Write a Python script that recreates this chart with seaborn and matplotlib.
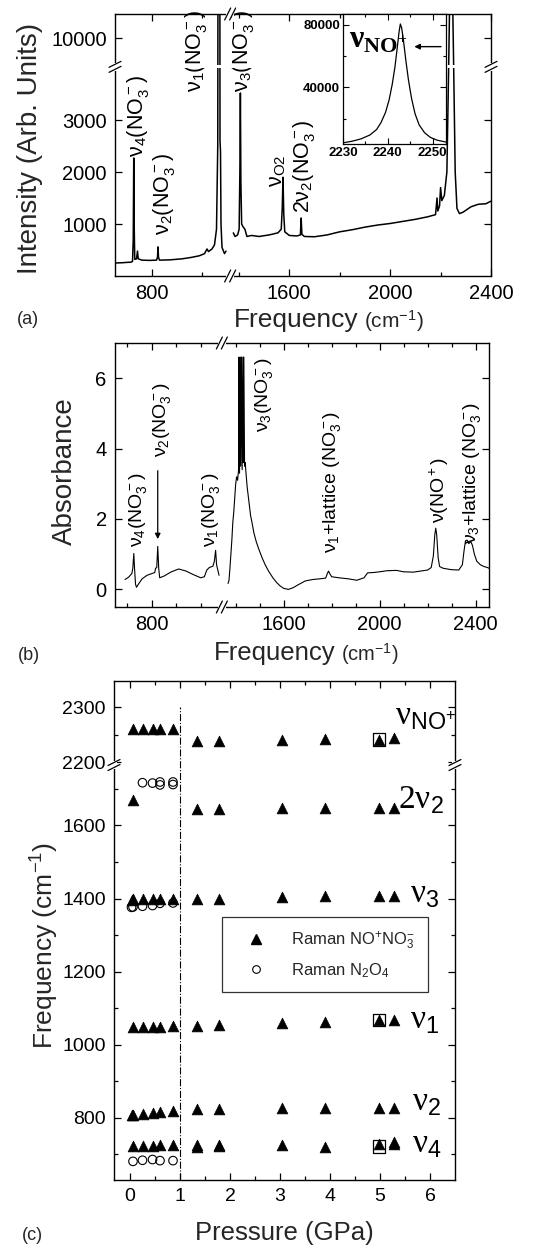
import numpy as np
import pandas as pd
import matplotlib
matplotlib.use("Agg")
import matplotlib.pyplot as plt
import seaborn as sns
from matplotlib.lines import Line2D
from matplotlib.patches import Rectangle

# ------------------------------------------------------------------ data
# (a) Raman spectrum (cm-1, arb. units)
raman_left_x = [652, 680, 700, 715, 722, 725, 727, 729, 731, 738, 742, 745, 760, 790, 818, 822,
                824, 826, 830, 870, 920, 960, 990, 1010, 1020, 1026, 1040, 1050, 1058, 1063, 1066,
                1070, 1072, 1074, 1076, 1080, 1090, 1096]
raman_left_y = [250, 255, 262, 265, 280, 700, 2270, 900, 320, 330, 480, 330, 305, 300, 305, 360,
                560, 360, 305, 310, 330, 360, 390, 430, 520, 470, 520, 600, 900, 2500, 30000,
                30000, 2600, 2400, 1000, 550, 430, 480]
raman_right_x = [1378, 1385, 1395, 1401, 1404, 1406, 1408, 1411, 1416, 1424, 1432, 1450, 1480,
                 1520, 1555, 1568, 1572, 1575, 1578, 1582, 1600, 1630, 1644, 1647, 1650, 1660,
                 1700, 1750, 1800, 1850, 1900, 1950, 2000, 2050, 2100, 2150, 2180, 2186, 2189,
                 2196, 2200, 2205, 2215, 2225, 2232, 2236, 2238, 2246, 2248, 2252, 2258, 2265,
                 2275, 2290, 2320, 2350, 2380, 2400]
raman_right_y = [830, 760, 790, 900, 2000, 3520, 1800, 1000, 950, 900, 760, 780, 760,
                 790, 830, 900, 1300, 1900, 1200, 850, 780, 770, 790, 1115, 800, 760,
                 755, 790, 850, 890, 940, 980, 1010, 1050, 1090, 1140, 1180, 1500, 1250,
                 1350, 1700, 1450, 1550, 2000, 4000, 11500, 40000, 40000, 11500, 4000, 2000, 1300,
                 1200, 1230, 1330, 1380, 1390, 1440]
inset_x = [2230, 2232, 2234, 2236, 2237.5, 2238.5, 2239.5, 2240.3, 2241, 2241.6, 2242.1, 2242.5,
           2242.8, 2243.1, 2243.5, 2244, 2244.6, 2245.3, 2246.1, 2247, 2248.2, 2249.5, 2251, 2253]
inset_y = [4500, 5500, 7000, 9500, 13000, 17500, 24000, 32000, 42000, 53000, 65000, 75000,
           80500, 78000, 70000, 58000, 45000, 33000, 23000, 16000, 11000, 8000, 6200, 5000]

# (b) IR absorbance
ir_left_x = [690, 705, 718, 722, 726, 729, 733, 737, 745, 760, 780, 800, 812, 815, 820, 824, 828,
             832, 850, 880, 910, 940, 970, 1000, 1015, 1025, 1035, 1050, 1056, 1061, 1065, 1075]
ir_left_y = [0.28, 0.35, 0.45, 0.6, 1.02, 0.6, 0.15, 0.06, 0.15, 0.3, 0.4, 0.45, 0.48, 0.6, 0.62,
             1.22, 0.6, 0.33, 0.38, 0.5, 0.58, 0.52, 0.42, 0.33, 0.36, 0.55, 0.62, 0.66, 0.8, 1.11,
             0.7, 0.4]
ir_right_x = [1368, 1372, 1376, 1380, 1384, 1388, 1392, 1396, 1400, 1404, 1408, 1412, 1414, 1416,
              1419, 1421, 1424, 1427, 1430, 1432, 1434, 1437, 1440, 1443, 1448,
              1455, 1462, 1468, 1476, 1486, 1496, 1510, 1523, 1537, 1555, 1570, 1585, 1600, 1620,
              1640, 1660, 1690, 1720, 1750, 1775, 1782, 1787, 1792, 1800, 1830, 1870, 1905, 1935,
              1950, 1975, 2000, 2030, 2070, 2100, 2140, 2170, 2200, 2215, 2224, 2230, 2234, 2238,
              2244, 2250, 2265, 2300, 2330, 2345, 2352, 2358, 2365, 2372, 2380, 2387, 2395, 2405,
              2420, 2435, 2450, 2456]
ir_right_y = [0.17, 0.25, 0.6, 1.0, 1.4, 1.9, 2.2, 2.6, 3.0, 3.2, 3.1, 3.4, 6.6, 3.3,
              6.6, 3.5, 6.6, 3.4, 6.6, 3.6, 6.6, 3.5, 3.6, 3.3, 2.9,
              2.5, 2.1, 1.9, 1.6, 1.35, 1.15, 0.9, 0.7, 0.52, 0.33, 0.2, 0.1, 0.03, 0.0,
              0.05, 0.13, 0.24, 0.28, 0.3, 0.32, 0.45, 0.52, 0.45, 0.36, 0.33, 0.3, 0.26, 0.33,
              0.47, 0.48, 0.5, 0.53, 0.54, 0.5, 0.49, 0.52, 0.55, 0.62, 0.95, 1.55, 1.74, 1.55,
              0.9, 0.65, 0.6, 0.56, 0.55, 0.7, 1.1, 1.38, 1.4, 1.3, 1.36, 1.25, 1.0, 0.8,
              0.7, 0.65, 0.62, 0.6]

# (c) Raman frequencies vs pressure
p_main = [0.06, 0.25, 0.45, 0.60, 0.86, 1.34, 1.77, 3.03, 3.90, 4.98, 5.28]
nu_no_tri = [2260, 2260, 2260, 2260, 2261, 2239, 2239, 2241, 2242, 2241, 2244]
nu1_tri = [1048, 1048, 1049, 1049, 1050, 1050, 1053, 1059, 1063, 1068, 1069]
p_nu3 = [0.03, 0.06, 0.25, 0.45, 0.60, 0.86, 1.34, 1.77, 3.03, 3.90, 4.98, 5.28]
nu3_tri = [1397, 1398, 1398, 1398, 1399, 1399, 1399, 1400, 1403, 1406, 1407, 1407]
nu2_tri = [808, 809, 810, 813, 816, 818, 823, 824, 826, 826, 826, 826]
p_2nu2 = [0.06, 1.34, 1.77, 3.03, 3.90, 4.98, 5.28]
two_nu2_tri = [1670, 1644, 1644, 1647, 1648, 1648, 1648]
p_nu4 = [0.06, 0.25, 0.45, 0.60, 0.86, 1.34, 1.34, 1.77, 1.77, 3.03, 3.90, 4.98, 5.28, 5.28]
nu4_tri = [723, 723, 724, 725, 725, 726, 721, 727, 722, 726, 721, 728, 733, 729]
p_circ_2nu2 = [0.25, 0.45, 0.60, 0.60, 0.86, 0.86]
two_nu2_circ = [1717, 1716, 1719, 1711, 1719, 1712]
p_circ_nu3 = [0.03, 0.06, 0.25, 0.45, 0.60, 0.86]
nu3_circ = [1376, 1377, 1379, 1381, 1387, 1388]
p_circ_nu4 = [0.06, 0.25, 0.45, 0.60, 0.86]
nu4_circ = [681, 684, 686, 683, 683]
p_square = [4.98, 4.98, 4.98]
square_f = [2241, 1068, 722]

# ------------------------------------------------------------------ style
sns.set_theme(style="ticks")
plt.rcParams["font.family"] = ["Liberation Sans", "DejaVu Sans"]
plt.rcParams["mathtext.fontset"] = "custom"
plt.rcParams["mathtext.rm"] = "Liberation Sans"
plt.rcParams["mathtext.it"] = "Liberation Sans:italic"
plt.rcParams["mathtext.bf"] = "Liberation Serif:bold"
plt.rcParams["mathtext.sf"] = "Liberation Sans"
plt.rcParams["mathtext.default"] = "rm"
plt.rcParams["axes.linewidth"] = 1.0

W, H = 537, 1247
fig = plt.figure(figsize=(W / 100, H / 100), dpi=100)
fig.patch.set_facecolor("white")


def rect(l, t, r, b):
    return [l / W, 1 - b / H, (r - l) / W, (b - t) / H]


def piecewise(src, dst):
    src = np.asarray(src, float)
    dst = np.asarray(dst, float)

    def f(v, a, b):
        v = np.asarray(v, float)
        out = np.interp(v, a, b)
        s0 = (b[1] - b[0]) / (a[1] - a[0])
        s1 = (b[-1] - b[-2]) / (a[-1] - a[-2])
        out = np.where(v < a[0], b[0] + (v - a[0]) * s0, out)
        out = np.where(v > a[-1], b[-1] + (v - a[-1]) * s1, out)
        return out

    return (lambda v: f(v, src, dst)), (lambda v: f(v, dst, src))


def frac(fwd, lo, hi, v):
    return float((fwd(v) - fwd(lo)) / (fwd(hi) - fwd(lo)))


def axpx(ax):
    pos = ax.get_position()
    return pos.width * W, pos.height * H


def xbreak(ax, f):
    wpx, hpx = axpx(ax)
    for yb in (0, 1):
        ax.add_patch(Rectangle((f - 4 / wpx, yb - 3 / hpx), 8 / wpx, 6 / hpx,
                               transform=ax.transAxes, facecolor="white",
                               edgecolor="none", clip_on=False, zorder=5))
        for off in (-2.5, 2.5):
            ax.plot([f + (off - 3) / wpx, f + (off + 3) / wpx],
                    [yb - 6 / hpx, yb + 6 / hpx], transform=ax.transAxes,
                    color="black", lw=0.9, clip_on=False, zorder=6)


def ybreak(ax, f, band=False):
    wpx, hpx = axpx(ax)
    if band:
        ax.add_patch(Rectangle((0, f - 1.5 / hpx), 1, 3 / hpx, transform=ax.transAxes,
                               facecolor="white", edgecolor="none", zorder=4))
    for xb in (0, 1):
        ax.add_patch(Rectangle((xb - 3 / wpx, f - 4 / hpx), 6 / wpx, 8 / hpx,
                               transform=ax.transAxes, facecolor="white",
                               edgecolor="none", clip_on=False, zorder=5))
        for off in (-2.5, 2.5):
            ax.plot([xb - 6 / wpx, xb + 6 / wpx],
                    [f + (off - 3) / hpx, f + (off + 3) / hpx], transform=ax.transAxes,
                    color="black", lw=0.9, clip_on=False, zorder=6)


def style_ticks(ax, size=14):
    ax.tick_params(which="both", direction="in", top=True, right=True,
                   labelsize=size, width=0.9, color="black", labelcolor="black")
    ax.tick_params(which="major", length=5, pad=6)
    ax.tick_params(which="minor", length=3)
    for s in ax.spines.values():
        s.set_color("black")
        s.set_linewidth(1.0)


# ------------------------------------------------------------------ (a)
axA = fig.add_axes(rect(115, 14, 491, 276))
ax_src = [652, 1112, 1366, 2400]
afx, aix = piecewise(ax_src, [0, 115, 115.3, 376])
ay_src = [0, 4020, 8800, 11005]
afy, aiy = piecewise(ay_src, [0, 209, 209.3, 262])
axA.set_xscale("function", functions=(afx, aix))
axA.set_yscale("function", functions=(afy, aiy))
sns.lineplot(x=raman_left_x, y=raman_left_y, ax=axA, color="black", lw=1.1,
             estimator=None, sort=False)
sns.lineplot(x=raman_right_x, y=raman_right_y, ax=axA, color="black", lw=1.1,
             estimator=None, sort=False)
axA.set_xlim(ax_src[0], ax_src[-1])
axA.set_ylim(ay_src[0], ay_src[-1])
axA.set_xticks([800, 1600, 2000, 2400], ["800", "1600", "2000", "2400"])
axA.set_xticks([1000, 1400, 1800, 2200], minor=True)
axA.set_yticks([1000, 2000, 3000, 10000], ["1000", "2000", "3000", "10000"])
axA.set_yticks([], minor=True)
axA.set_xlabel("")
axA.set_ylabel("")
style_ticks(axA, 14.5)
xbreak(axA, frac(afx, ax_src[0], ax_src[-1], 1239))
ybreak(axA, frac(afy, ay_src[0], ay_src[-1], 6400), band=True)

labA = dict(rotation=90, ha="center", va="bottom", fontsize=15.5, color="black")
axA.text(744, 2290, "ν$_4$(NO$_3^-$)", **labA)
axA.text(848, 790, "ν$_2$(NO$_3^-$)", **labA)
axA.text(976, 3540, "ν$_1$(NO$_3^-$)", **labA)
axA.text(1417, 3540, "ν$_3$(NO$_3^-$)", **labA)
axA.text(1552, 1710, "ν$_{O2}$", **labA)
axA.text(1660, 1210, "2ν$_2$(NO$_3^-$)", **labA)

# inset
axI = fig.add_axes(rect(343, 14, 446, 144))
axI.set_facecolor("white")
sns.lineplot(x=inset_x, y=inset_y, ax=axI, color="black", lw=0.9, estimator=None, sort=False)
axI.set_xlim(2230, 2253)
axI.set_ylim(3750, 86875)
axI.set_xticks([2230, 2240, 2250], ["2230", "2240", "2250"])
axI.set_xticks([2235, 2245], minor=True)
axI.set_yticks([40000, 80000], ["40000", "80000"])
axI.set_yticks([20000, 60000], minor=True)
axI.set_xlabel("")
axI.set_ylabel("")
axI.tick_params(which="both", direction="in", top=True, right=True, labelsize=9.5,
                width=0.8, color="black", labelcolor="black", pad=2)
axI.tick_params(which="major", length=4)
axI.tick_params(which="minor", length=2.5)
for lab in axI.get_xticklabels() + axI.get_yticklabels():
    lab.set_fontweight("bold")
for s in axI.spines.values():
    s.set_color("black")
    s.set_linewidth(0.9)
axI.text(2231.3, 70000, "ν$_{\\mathbf{NO^{+}}}$", family="Liberation Serif",
         fontweight="bold", fontsize=23, ha="left", va="center", color="black")
axI.annotate("", xy=(2245.3, 66000), xytext=(2252.5, 66000),
             arrowprops=dict(arrowstyle="-|>", color="black", lw=1.0, mutation_scale=8))

fig.text(30 / W, 1 - 148 / H, "Intensity (Arb. Units)", rotation=90, ha="center",
         va="center", fontsize=20)
fig.text(359 / W, 1 - 320 / H, "Frequency", ha="right", va="center", fontsize=19)
fig.text(364 / W, 1 - 321 / H, "(cm$^{-1}$)", ha="left", va="center", fontsize=15)
fig.text(17 / W, 1 - 320 / H, "(a)", ha="left", va="center", fontsize=13)

# ------------------------------------------------------------------ (b)
axB = fig.add_axes(rect(115, 343, 489, 607))
bx_src = [649, 1086, 1343, 2456]
bfx, bix = piecewise(bx_src, [0, 107, 107.3, 375])
axB.set_xscale("function", functions=(bfx, bix))
sns.lineplot(x=ir_left_x, y=ir_left_y, ax=axB, color="black", lw=0.8,
             estimator=None, sort=False)
sns.lineplot(x=ir_right_x, y=ir_right_y, ax=axB, color="black", lw=0.8,
             estimator=None, sort=False)
axB.set_xlim(bx_src[0], bx_src[-1])
axB.set_ylim(-0.5, 7.0)
axB.set_xticks([800, 1600, 2000, 2400], ["800", "1600", "2000", "2400"])
axB.set_xticks([700, 900, 1000, 1400, 1500, 1700, 1800, 1900, 2100, 2200, 2300], minor=True)
axB.set_yticks([0, 2, 4, 6], ["0", "2", "4", "6"])
axB.set_xlabel("")
axB.set_ylabel("")
style_ticks(axB, 14.5)
xbreak(axB, frac(bfx, bx_src[0], bx_src[-1], 1200))

labB = dict(rotation=90, ha="center", va="bottom", fontsize=14, color="black")
axB.text(743, 1.2, "ν$_4$(NO$_3^-$)", **labB)
axB.text(843, 3.76, "ν$_2$(NO$_3^-$)", **labB)
axB.annotate("", xy=(824, 1.35), xytext=(824, 3.45),
             arrowprops=dict(arrowstyle="-|>", color="black", lw=0.9, mutation_scale=8))
axB.text(1043, 1.2, "ν$_1$(NO$_3^-$)", **labB)
axB.text(1517, 4.47, "ν$_3$(NO$_3^-$)", **labB)
axB.text(1803, 1.02, "ν$_1$+lattice (NO$_3^-$)", **labB)
axB.text(2251, 1.88, "ν(NO$^+$)", **labB)
axB.text(2386, 1.3, "ν$_3$+lattice (NO$_3^-$)", **labB)

fig.text(65 / W, 1 - 471 / H, "Absorbance", rotation=90, ha="center", va="center",
         fontsize=20)
fig.text(335 / W, 1 - 653 / H, "Frequency", ha="right", va="center", fontsize=18.5)
fig.text(341 / W, 1 - 654 / H, "(cm$^{-1}$)", ha="left", va="center", fontsize=14.5)
fig.text(18 / W, 1 - 655 / H, "(b)", ha="left", va="center", fontsize=13)

# ------------------------------------------------------------------ (c)
axC = fig.add_axes(rect(114, 681, 455, 1180))
cy_src = [630, 1765, 2195, 2348]
cfy, ciy = piecewise(cy_src, [0, 414, 414.3, 498])
axC.set_yscale("function", functions=(cfy, ciy))

tri = pd.DataFrame({
    "P": p_main + p_main + p_nu3 + p_nu3 + p_2nu2 + p_nu4,
    "f": nu_no_tri + nu1_tri + nu3_tri + nu2_tri + two_nu2_tri + nu4_tri,
})
circ = pd.DataFrame({
    "P": p_circ_2nu2 + p_circ_nu3 + p_circ_nu4,
    "f": two_nu2_circ + nu3_circ + nu4_circ,
})
sq = pd.DataFrame({"P": p_square, "f": square_f})

sns.scatterplot(data=sq, x="P", y="f", ax=axC, marker="s", s=80, facecolor="none",
                edgecolor="black", linewidth=0.9, zorder=3)
sns.scatterplot(data=tri, x="P", y="f", ax=axC, marker="^", s=60, color="black",
                edgecolor="black", linewidth=0.5, zorder=4)
sns.scatterplot(data=circ, x="P", y="f", ax=axC, marker="o", s=38, facecolor="none",
                edgecolor="black", linewidth=0.8, zorder=4)
axC.plot([1.0, 1.0], [630, 2300], color="black", lw=0.8, ls="-.", zorder=2)

axC.set_xlim(-0.32, 6.5)
axC.set_ylim(cy_src[0], cy_src[-1])
axC.set_xticks([0, 1, 2, 3, 4, 5, 6], ["0", "1", "2", "3", "4", "5", "6"])
axC.set_xticks([0.5, 1.5, 2.5, 3.5, 4.5, 5.5], minor=True)
axC.set_yticks([800, 1000, 1200, 1400, 1600, 2200, 2300],
               ["800", "1000", "1200", "1400", "1600", "2200", "2300"])
axC.set_yticks([700, 900, 1100, 1300, 1500, 1700, 2250], minor=True)
axC.set_xlabel("")
axC.set_ylabel("")
style_ticks(axC, 14)
ybreak(axC, frac(cfy, cy_src[0], cy_src[-1], 1980))

big = dict(family="Liberation Serif", fontsize=24, ha="left", va="center", color="black")
axC.text(5.3, 2282, "ν$_{NO^{+}}$", **big)
axC.text(5.36, 1668, "2ν$_{2}$", **big)
axC.text(5.6, 1411, "ν$_{3}$", **big)
axC.text(5.6, 1066, "ν$_{1}$", **big)
axC.text(5.64, 841, "ν$_{2}$", **big)
axC.text(5.64, 726, "ν$_{4}$", **big)

handles = [
    Line2D([], [], ls="none", marker="^", color="black", markersize=7),
    Line2D([], [], ls="none", marker="o", markerfacecolor="none", markeredgecolor="black",
           markersize=5.5, markeredgewidth=0.8),
]
leg = axC.legend(handles, ["Raman NO$^{+}$NO$_3^{-}$", "Raman N$_2$O$_4$"],
                 loc="upper left", bbox_to_anchor=((222 - 114) / 341, 1 - (917 - 681) / 499),
                 fontsize=12, frameon=True, fancybox=False, edgecolor="black",
                 borderpad=0.75, handletextpad=0.8, borderaxespad=0, labelspacing=0.55,
                 handlelength=2.6)
leg.get_frame().set_linewidth(0.9)

fig.text(45 / W, 1 - 945 / H, "Frequency (cm$^{-1}$)", rotation=90, ha="center",
         va="center", fontsize=19)
fig.text(284 / W, 1 - 1233 / H, "Pressure (GPa)", ha="center", va="center", fontsize=18.5)
fig.text(22 / W, 1 - 1235 / H, "(c)", ha="left", va="center", fontsize=13)

fig.savefig("out.png", dpi=100, facecolor="white")
